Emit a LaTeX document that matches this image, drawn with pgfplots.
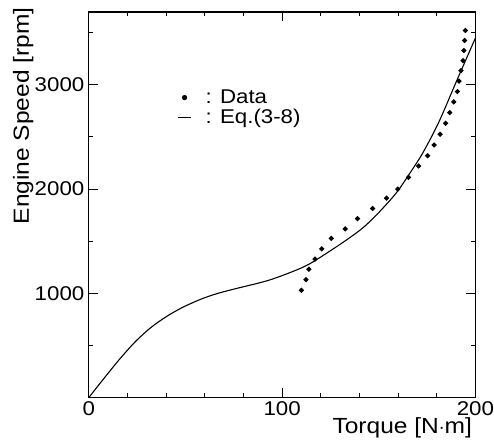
\documentclass[border=0pt]{standalone}
\usepackage{fontspec}
\setmainfont[FakeStretch=1.12]{Liberation Sans}
\usepackage{pgfplots}
\pgfplotsset{compat=1.18}
\pgfplotsset{
  shortline/.style={legend image code/.code={\draw[##1] (0bp,0bp) -- (13bp,0bp);}},
  dotimg/.style={legend image code/.code={\fill (6.5bp,0bp) circle (2pt); \path (13bp,0bp);}},
}

\begin{document}
\begin{tikzpicture}
  \begin{axis}[
    scale only axis,
    width=387bp, height=386bp,
    line width=1.2pt,
    clip=false,
    xmin=0, xmax=200, ymin=0, ymax=3700,
    xtick={0,100,200},
    minor xtick={20,40,60,80,120,140,160,180},
    ytick={0,1000,2000,3000},
    yticklabels={,1000,2000,3000},
    minor ytick={500,1500,2500,3500},
    tick align=inside,
    major tick length=9bp, minor tick length=4.5bp,
    tick style={line width=1pt, black},
    ticklabel style={font=\fontsize{20}{22}\selectfont, inner sep=0pt},
    xticklabel style={yshift=-4bp},
    yticklabel style={xshift=-4bp},
    /pgf/number format/assume math mode=true,
    /pgf/number format/1000 sep={},
    scaled ticks=false,
    xlabel={Torque [N$\cdot$m]},
    ylabel={Engine Speed [rpm]},
    label style={font=\fontsize{22}{24}\selectfont, inner sep=0pt},
    xlabel style={at={(axis description cs:1,0)}, anchor=north east, xshift=-3bp, yshift=-20bp},
    ylabel style={at={(axis description cs:-0.142,1.013)}, anchor=south east},
    legend style={draw=none, fill=none, at={(axis cs:44,2995)}, anchor=north west,
      font=\fontsize{20}{22}\selectfont, row sep=0pt},
    legend cell align=left,
  ]
    % measured data
    \addplot[only marks, mark=*, mark size=1.9pt, black, dotimg] coordinates {
      (110,1029) (112.3,1131) (113.8,1231) (117,1327) (120.5,1426)
      (125.4,1526) (132.6,1618) (139,1717) (146.8,1814) (154,1913)
      (159.8,2000) (165.4,2112) (170.6,2221) (175.3,2320) (178.6,2423)
      (181.7,2526) (184.6,2631) (186.7,2734) (188.8,2837) (190.7,2936)
      (191.5,3036) (192.5,3137) (193.6,3233) (194,3330) (194.4,3426)
      (194.8,3522)
    };
    \addlegendentry{\hspace{12bp}: Data}

    % Eq.(3-8)
    \addplot[black, line width=1.1pt, smooth, shortline] coordinates {
      (0,0) (8,188) (16,370) (24,535) (32,670) (40,775) (48,860)
      (57.5,940) (66,995) (74.6,1038) (91.8,1118) (104,1198) (113.6,1276)
      (124.7,1405) (133,1508) (141.9,1630) (150,1775) (159,1962)
      (166,2150) (172.8,2348) (181,2640) (190,3026) (200,3450)
    };
    \addlegendentry{\hspace{12bp}: Eq.(3-8)}

    % page margins as in the reference
    \path (axis description cs:-0.23,1.031) (axis description cs:1.046,-0.111);
  \end{axis}
\end{tikzpicture}
\end{document}
